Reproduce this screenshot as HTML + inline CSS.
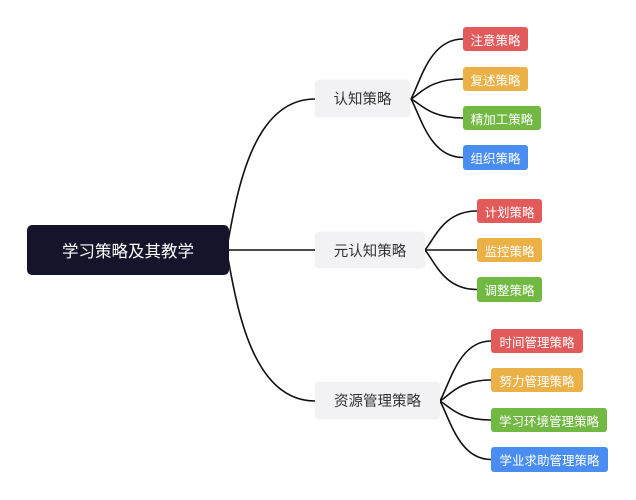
<!DOCTYPE html>
<html><head><meta charset="utf-8">
<style>
html,body{margin:0;padding:0;background:#fff;}
body{width:636px;height:500px;position:relative;overflow:hidden;font-family:"Liberation Sans","Noto Sans CJK SC",sans-serif;}
.n{position:absolute;display:flex;align-items:center;justify-content:center;box-sizing:border-box;white-space:nowrap;}
.root{left:27px;top:225px;width:202px;height:50px;background:#14142a;border-radius:5px;color:#fff;font-size:16.5px;}
.l1{left:315px;background:#f2f2f4;border-radius:4px;color:#333;font-size:14.5px;box-shadow:0 0 3px rgba(0,0,0,0.05);}
.lf{height:24px;border-radius:3px;color:#fff;font-size:12.5px;}
.r{background:#e35a5b;}
.o{background:#ebb046;}
.g{background:#72b944;}
.b{background:#4a8df0;}
svg{position:absolute;left:0;top:0;}
</style></head><body>
<svg width="636" height="500" viewBox="0 0 636 500">
<g fill="none" stroke="#111" stroke-width="1.6">
<path d="M227 247 C236 200 250 99 315 99"/>
<path d="M227 250 L315 250"/>
<path d="M227 253 C236 300 250 401 315 401"/>
<path d="M411 99 C421 80 430 39 463 39"/>
<path d="M411 99 C421 93 430 79 463 79"/>
<path d="M411 99 C421 104 430 118 463 118"/>
<path d="M411 99 C421 117 430 157.5 463 157.5"/>
<path d="M425 250 C435 238 444 211 477 211"/>
<path d="M425 250 L477 250"/>
<path d="M425 250 C435 262 444 289.5 477 289.5"/>
<path d="M440 401 C450 383 459 341 491 341"/>
<path d="M440 401 C450 395 459 380 491 380"/>
<path d="M440 401 C450 407 459 420 491 420"/>
<path d="M440 401 C450 419 459 459.5 491 459.5"/>
</g>
</svg>
<div class="n root">学习策略及其教学</div>
<div class="n l1" style="top:80px;width:95px;height:37px;">认知策略</div>
<div class="n l1" style="top:232px;width:110px;height:36px;">元认知策略</div>
<div class="n l1" style="top:382px;width:125px;height:37px;">资源管理策略</div>

<div class="n lf r" style="left:463px;top:27px;width:65px;">注意策略</div>
<div class="n lf o" style="left:463px;top:67px;width:65px;">复述策略</div>
<div class="n lf g" style="left:463px;top:106px;width:78px;">精加工策略</div>
<div class="n lf b" style="left:463px;top:145px;width:65px;height:25px;">组织策略</div>

<div class="n lf r" style="left:477px;top:199px;width:65px;">计划策略</div>
<div class="n lf o" style="left:477px;top:238px;width:65px;">监控策略</div>
<div class="n lf g" style="left:477px;top:277px;width:65px;height:25px;">调整策略</div>

<div class="n lf r" style="left:491px;top:329px;width:92px;">时间管理策略</div>
<div class="n lf o" style="left:491px;top:368px;width:92px;">努力管理策略</div>
<div class="n lf g" style="left:491px;top:408px;width:116px;">学习环境管理策略</div>
<div class="n lf b" style="left:491px;top:447px;width:117px;height:25px;">学业求助管理策略</div>
</body></html>
